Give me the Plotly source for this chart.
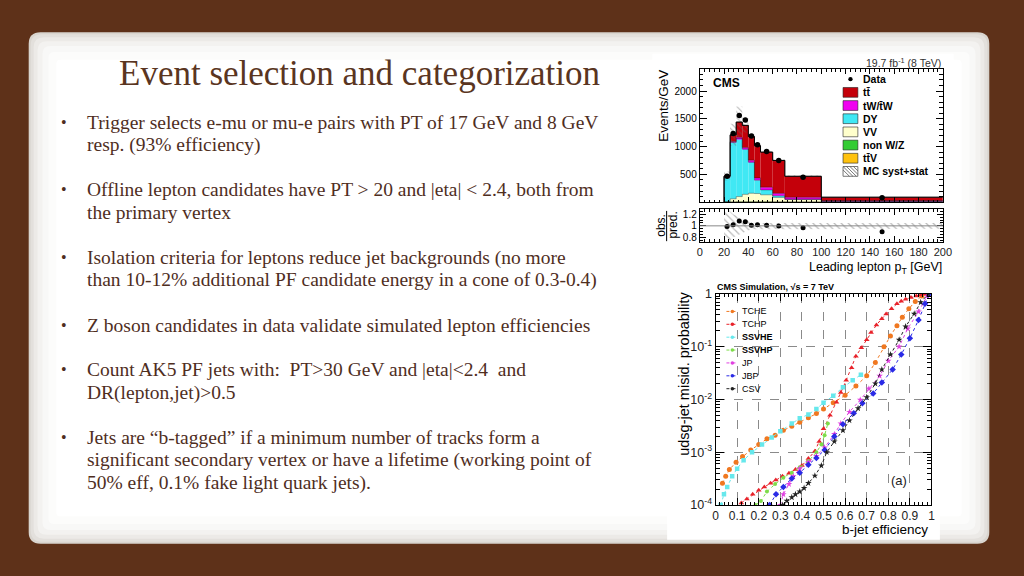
import plotly.graph_objects as go

# ---------------- data: top histogram (leading lepton pT) ----------------
bin_edges = [20, 25, 30, 35, 40, 45, 50, 60, 70, 100, 200]
ttV   = [0, 1, 2, 2, 3, 3, 3, 3, 2, 1]
nonWZ = [1, 3, 3, 3, 2, 2, 2, 1, 1, 0]
VV    = [8, 56, 95, 135, 155, 150, 127, 82, 47, 14]
DY    = [445, 1016, 1047, 817, 561, 241, 88, 27, 5, 2]
tW    = [5, 15, 20, 28, 35, 40, 50, 45, 33, 10]
tt    = [11, 121, 275, 398, 426, 581, 631, 593, 378, 62]
data_counts = [465, 1235, 1560, 1480, 1192, 1035, 910, 748, 450, 80]
mc_unc = [80, 200, 280, 130, 55, 35, 25, 20, 15, 5]
ratio_unc = [0.30, 0.20, 0.15, 0.10, 0.06, 0.05, 0.05, 0.05, 0.05, 0.05]

hist_yticks = [500, 1000, 1500, 2000]
ratio_yticks = [0.8, 1, 1.2]

# ---------------- data: b-tag performance curves ----------------
TCHE_x = [0.032, 0.047, 0.064, 0.095, 0.125, 0.163, 0.20, 0.238, 0.276, 0.314, 0.353, 0.39, 0.43, 0.467,
          0.50, 0.545, 0.60, 0.65, 0.70, 0.74, 0.78, 0.81, 0.84, 0.865, 0.895, 0.925, 0.955, 0.97]
TCHE_y = [2.6e-4, 3.5e-4, 4.7e-4, 6.5e-4, 8.3e-4, 1.1e-3, 1.4e-3, 1.8e-3, 2.1e-3, 2.6e-3, 3.1e-3, 3.7e-3,
          4.5e-3, 5.4e-3, 6.6e-3, 8.7e-3, 1.2e-2, 1.8e-2, 2.8e-2, 5.0e-2, 0.10, 0.16, 0.25, 0.36, 0.52,
          0.72, 0.91, 1.0]
TCHP_x = [0.119, 0.145, 0.172, 0.20, 0.226, 0.255, 0.279, 0.31, 0.34, 0.37, 0.40, 0.43, 0.46, 0.48, 0.50,
          0.53, 0.56, 0.58, 0.605, 0.63, 0.65, 0.675, 0.70, 0.72, 0.745, 0.77, 0.79, 0.815, 0.84, 0.86,
          0.88, 0.905, 0.93, 0.95, 0.97]
TCHP_y = [1.1e-4, 1.3e-4, 1.6e-4, 1.9e-4, 2.2e-4, 2.6e-4, 3.0e-4, 3.5e-4, 4.0e-4, 4.7e-4, 5.6e-4, 7.6e-4,
          1.05e-3, 1.6e-3, 2.8e-3, 5.0e-3, 8.9e-3, 1.35e-2, 2.3e-2, 4.0e-2, 6.6e-2, 9.5e-2, 0.135, 0.186,
          0.257, 0.339, 0.417, 0.525, 0.646, 0.724, 0.794, 0.851, 0.912, 0.955, 1.0]
SSVHE_x = [0.024, 0.039, 0.054, 0.077, 0.10, 0.13, 0.169, 0.215, 0.26, 0.30, 0.353, 0.39, 0.43, 0.467,
           0.50, 0.545, 0.59, 0.635, 0.673]
SSVHE_y = [1.0e-4, 1.6e-4, 2.2e-4, 3.5e-4, 4.9e-4, 7.1e-4, 1.0e-3, 1.4e-3, 1.9e-3, 2.5e-3, 3.5e-3, 4.4e-3,
           5.2e-3, 6.6e-3, 8.7e-3, 1.17e-2, 1.7e-2, 2.3e-2, 2.95e-2]
SSVHP_x = [0.185, 0.21, 0.238, 0.276, 0.314, 0.353, 0.39, 0.43, 0.467, 0.49, 0.505, 0.52]
SSVHP_y = [1.0e-4, 1.2e-4, 1.8e-4, 2.5e-4, 3.3e-4, 4.1e-4, 5.2e-4, 6.8e-4, 1.0e-3, 1.4e-3, 2.1e-3, 3.5e-3]
JP_x = [0.30, 0.314, 0.34, 0.36, 0.39, 0.43, 0.467, 0.505, 0.55, 0.58, 0.62, 0.67, 0.71, 0.76, 0.80, 0.85,
        0.89, 0.94, 0.98]
JP_y = [1.0e-4, 1.6e-4, 2.5e-4, 3.5e-4, 4.9e-4, 6.5e-4, 8.5e-4, 1.23e-3, 2.2e-3, 3.5e-3, 5.8e-3, 9.8e-3,
        1.6e-2, 2.8e-2, 5.4e-2, 0.10, 0.22, 0.46, 0.91]
JBP_x = [0.25, 0.28, 0.314, 0.353, 0.39, 0.43, 0.467, 0.505, 0.55, 0.59, 0.64, 0.68, 0.73, 0.77, 0.82, 0.86,
         0.90, 0.94, 0.97, 0.99]
JBP_y = [1.0e-4, 1.6e-4, 2.2e-4, 3.2e-4, 4.1e-4, 5.8e-4, 7.8e-4, 1.1e-3, 2.0e-3, 3.4e-3, 5.5e-3, 8.5e-3,
         1.3e-2, 2.1e-2, 3.7e-2, 7.1e-2, 0.145, 0.32, 0.65, 1.0]
CSV_x = [0.31, 0.33, 0.353, 0.37, 0.39, 0.41, 0.43, 0.46, 0.49, 0.515, 0.55, 0.59, 0.62, 0.66, 0.70, 0.74,
         0.77, 0.81, 0.85, 0.88, 0.92, 0.95, 0.985]
CSV_y = [1.0e-4, 1.2e-4, 1.4e-4, 1.6e-4, 1.8e-4, 2.1e-4, 2.6e-4, 3.6e-4, 5.6e-4, 1.0e-3, 1.6e-3, 2.6e-3,
         4.0e-3, 6.8e-3, 1.1e-2, 2.0e-2, 3.7e-2, 7.1e-2, 0.135, 0.24, 0.42, 0.69, 1.0]

btag_xticks = [0, 0.1, 0.2, 0.3, 0.4, 0.5, 0.6, 0.7, 0.8, 0.9, 1]
btag_yticks = [1e-4, 1e-3, 1e-2, 1e-1, 1]
btag_yticktext = ["10<sup>-4</sup>", "10<sup>-3</sup>", "10<sup>-2</sup>", "10<sup>-1</sup>", "1"]

# ---------------- slide text ----------------
title_text = "Event selection and categorization"
bullets = [
    ["Trigger selects e-mu or mu-e pairs with PT of 17 GeV and 8 GeV", "resp. (93% efficiency)"],
    ["Offline lepton candidates have PT > 20 and |eta| < 2.4, both from", "the primary vertex"],
    ["Isolation criteria for leptons reduce jet backgrounds (no more",
     "than 10-12% additional PF candidate energy in a cone of 0.3-0.4)"],
    ["Z boson candidates in data validate simulated lepton efficiencies"],
    ["Count AK5 PF jets with:  PT>30 GeV and |eta|<2.4  and", "DR(lepton,jet)>0.5"],
    ["Jets are \u201cb-tagged\u201d if a minimum number of tracks form a",
     "significant secondary vertex or have a lifetime (working point of",
     "50% eff, 0.1% fake light quark jets)."],
]
bullet_y = [118, 187, 257, 326, 372, 441]

# ---------------- helpers ----------------
W, H = 1024, 576
def X(px): return px / W
def Y(py): return 1 - py / H

BROWN = "#5e3119"
TEXT = "#4f2e1e"
TITLE = "#5a3521"
SANS = "Liberation Sans, Arial, sans-serif"
SERIF = "Liberation Serif, Times New Roman, serif"

c_tt, c_tW, c_DY, c_VV, c_nonWZ, c_ttV = "#c4000a", "#f000f0", "#40e8f4", "#ffffcc", "#33cc33", "#ffc20e"

fig = go.Figure()

# ---- stacked histogram
centers = [(a + b) / 2 for a, b in zip(bin_edges[:-1], bin_edges[1:])]
widths = [b - a for a, b in zip(bin_edges[:-1], bin_edges[1:])]
stack = [(ttV, c_ttV), (nonWZ, c_nonWZ), (VV, c_VV), (DY, c_DY), (tW, c_tW), (tt, c_tt)]
base = [0] * len(centers)
for vals, col in stack:
    fig.add_trace(go.Bar(x=centers, y=vals, base=base[:], width=widths, marker_color=col,
                         marker_line_width=0, xaxis="x", yaxis="y", hoverinfo="skip"))
    base = [b + v for b, v in zip(base, vals)]
    fig.add_trace(go.Scatter(x=[bin_edges[0]] + bin_edges, y=[0] + base + [base[-1]],
                             mode="lines", line=dict(color="rgba(0,0,0,0.55)", width=0.6, shape="hv"),
                             xaxis="x", yaxis="y", hoverinfo="skip"))
total = base
fig.add_trace(go.Scatter(x=[bin_edges[0]] + bin_edges, y=[0] + total + [total[-1]],
                         mode="lines", line=dict(color="black", width=1, shape="hv"),
                         xaxis="x", yaxis="y", hoverinfo="skip"))
fig.add_trace(go.Bar(x=centers, y=[2 * u for u in mc_unc], base=[t - u for t, u in zip(total, mc_unc)],
                     width=widths, marker=dict(color="rgba(0,0,0,0)", line_width=0,
                                               pattern=dict(shape="\\", fgcolor="#666666", bgcolor="rgba(0,0,0,0)",
                                                            size=4, solidity=0.25, fillmode="overlay")),
                     xaxis="x", yaxis="y", hoverinfo="skip"))
fig.add_trace(go.Scatter(x=centers, y=data_counts, mode="markers",
                         marker=dict(color="black", size=5.5), xaxis="x", yaxis="y", hoverinfo="skip"))

# ---- ratio panel
band_x = [bin_edges[0]] + centers + [bin_edges[-1]]
band_u = [ratio_unc[0]] + ratio_unc + [ratio_unc[-1]]
fig.add_trace(go.Scatter(x=band_x + band_x[::-1], y=[1 + u for u in band_u] + [1 - u for u in band_u[::-1]],
                         fill="toself", mode="lines", line=dict(width=0), fillcolor="rgba(0,0,0,0)",
                         fillpattern=dict(shape="\\", fgcolor="#777777", bgcolor="rgba(0,0,0,0)",
                                          size=5, solidity=0.25, fillmode="overlay"),
                         xaxis="x2", yaxis="y2", hoverinfo="skip"))
ratio = [d / t for d, t in zip(data_counts, total)]
fig.add_trace(go.Scatter(x=centers, y=ratio, mode="markers", marker=dict(color="black", size=5),
                         xaxis="x2", yaxis="y2", hoverinfo="skip"))

# ---- b-tag curves
taggers = [
    ("TCHE", TCHE_x, TCHE_y, "#f07820", "circle", 5),
    ("TCHP", TCHP_x, TCHP_y, "#e8222a", "triangle-up", 5),
    ("SSVHE", SSVHE_x, SSVHE_y, "#66e8ec", "square", 4.5),
    ("SSVHP", SSVHP_x, SSVHP_y, "#7edc4a", "circle", 4),
    ("JP", JP_x, JP_y, "#e040e0", "star", 5),
    ("JBP", JBP_x, JBP_y, "#2a2ae6", "diamond", 5),
    ("CSV", CSV_x, CSV_y, "#222222", "star", 5),
]
for name, xs, ys, col, sym, sz in taggers:
    fig.add_trace(go.Scatter(x=xs, y=ys, mode="lines+markers", name=name,
                             line=dict(color=col, width=1, dash="dot"),
                             marker=dict(color=col, symbol=sym, size=sz),
                             xaxis="x3", yaxis="y3", hoverinfo="skip"))

# ---------------- shapes ----------------
shapes = []
def rrect(x0, y0, x1, y1, r, fill):
    p = (f"M {X(x0+r)},{Y(y0)} L {X(x1-r)},{Y(y0)} Q {X(x1)},{Y(y0)} {X(x1)},{Y(y0+r)} "
         f"L {X(x1)},{Y(y1-r)} Q {X(x1)},{Y(y1)} {X(x1-r)},{Y(y1)} L {X(x0+r)},{Y(y1)} "
         f"Q {X(x0)},{Y(y1)} {X(x0)},{Y(y1-r)} L {X(x0)},{Y(y0+r)} Q {X(x0)},{Y(y0)} {X(x0+r)},{Y(y0)} Z")
    return dict(type="path", path=p, xref="paper", yref="paper", fillcolor=fill,
                line=dict(width=0), layer="below")

for inset, col in [(0, "#d9d5cf"), (2, "#e3e0dc"), (5, "#eceae7"), (9, "#f3f2f0"),
                   (14, "#f8f8f7"), (20, "#fcfcfb"), (28, "#ffffff")]:
    shapes.append(rrect(26 + inset, 26 + inset, 998 - inset, 550 - inset, max(12 - inset * 0.3, 4), col))
shapes.append(dict(type="rect", xref="paper", yref="paper", x0=X(657), x1=X(962), y0=Y(272), y1=Y(48),
                   fillcolor="white", line_width=0, layer="below"))
shapes.append(dict(type="rect", xref="paper", yref="paper", x0=X(672), x1=X(948), y0=Y(546), y1=Y(276),
                   fillcolor="white", line_width=0, layer="below"))
shapes.append(dict(type="line", xref="x2 domain", yref="y2", x0=0, x1=1, y0=1, y1=1,
                   line=dict(color="#888888", width=1)))
shapes.append(dict(type="line", xref="paper", yref="paper", x0=X(671.5), x1=X(671.5), y0=Y(240), y1=Y(209),
                   line=dict(color="black", width=1)))

annotations = []
def ann(text, x, y, size, color="black", family=SANS, xanchor="left", yanchor="middle", angle=0):
    annotations.append(dict(text=text, x=X(x), y=Y(y), xref="paper", yref="paper", showarrow=False,
                            xanchor=xanchor, yanchor=yanchor, textangle=angle,
                            font=dict(size=size, color=color, family=family)))

leg_labels = ["Data", "tt\u0304", "tW/t\u0304W", "DY", "VV", "non W/Z", "tt\u0304V", "MC syst+stat"]
leg_cols = [None, c_tt, c_tW, c_DY, c_VV, c_nonWZ, c_ttV, "hatch"]
for i, (lab, col) in enumerate(zip(leg_labels, leg_cols)):
    yc = 74 + 13.5 * i
    if col is None:
        shapes.append(dict(type="circle", xref="paper", yref="paper", x0=X(855.3), x1=X(859.7),
                           y0=Y(yc + 2.2), y1=Y(yc - 2.2), fillcolor="black", line_width=0))
    elif col == "hatch":
        shapes.append(dict(type="rect", xref="paper", yref="paper", x0=X(850), x1=X(865),
                           y0=Y(yc + 5), y1=Y(yc - 5), fillcolor="white", line=dict(color="#555", width=0.8)))
        for k in range(5):
            xa = 850 + k * 3.5 - 3.5
            x0c, y0c = max(xa, 850), yc - 5 + (max(xa, 850) - xa)
            x1c = min(xa + 10, 865)
            y1c = yc - 5 + (x1c - xa)
            shapes.append(dict(type="line", xref="paper", yref="paper", x0=X(x0c), y0=Y(y0c),
                               x1=X(x1c), y1=Y(y1c), line=dict(color="#555", width=0.8)))
    else:
        shapes.append(dict(type="rect", xref="paper", yref="paper", x0=X(850), x1=X(865),
                           y0=Y(yc + 5), y1=Y(yc - 5), fillcolor=col, line=dict(color="#222", width=0.6)))
    ann("<b>" + lab + "</b>", 868, yc, 10.5)

bold_names = {"SSVHE", "SSVHP"}
for i, (name, xs, ys, col, sym, sz) in enumerate(taggers):
    yc = 312 + 13.2 * i
    shapes.append(dict(type="line", xref="paper", yref="paper", x0=X(732), x1=X(744), y0=Y(yc), y1=Y(yc),
                       line=dict(color=col, width=1, dash="dot")))
    shapes.append(dict(type="circle", xref="paper", yref="paper", x0=X(736.2), x1=X(739.8),
                       y0=Y(yc + 1.8), y1=Y(yc - 1.8), fillcolor=col, line_width=0))
    lab = "<b>" + name + "</b>" if name in bold_names else name
    ann(lab, 746, yc, 9)

ann("19.7 fb<sup>-1</sup> (8 TeV)", 951, 57, 10.5, color="#333", xanchor="right")
ann("<b>CMS</b>", 716, 78, 12)
ann("Events/GeV", 668, 101, 13.5, angle=-90, xanchor="center")
ann("obs.", 665, 224, 12, angle=-90, xanchor="center")
ann("pred.", 678, 224, 12, angle=-90, xanchor="center")
ann("Leading lepton p<sub>T</sub> [GeV]", 952, 267, 12.5, xanchor="right")
ann("<b>CMS Simulation, \u221As = 7 TeV</b>", 720, 287, 9)
ann("udsg-jet misid. probability", 689, 376, 14.5, angle=-90, xanchor="center")
ann("b-jet efficiency", 938, 536, 13.5, xanchor="right")
ann("(a)", 907, 485, 13, color="#222", xanchor="center")

ann(title_text, 361, 68, 35, color=TITLE, family=SERIF, xanchor="center")
for lines, yb in zip(bullets, bullet_y):
    ann("\u2022", 57, yb, 16, color=TEXT, family=SERIF)
    for j, line in enumerate(lines):
        ann(line, 83, yb + 23.3 * j, 19.5, color=TEXT, family=SERIF)

# ---------------- axes ----------------
frame = dict(showline=True, linecolor="black", linewidth=1, mirror="ticks", ticks="inside",
             showgrid=False, zeroline=False, tickcolor="black", ticklen=5,
             tickfont=dict(family=SANS, size=10, color="black"))
hx = [X(705), X(951)]
layout_axes = dict(
    xaxis=dict(frame, domain=hx, range=[0, 200], anchor="y", dtick=20, showticklabels=False,
               minor=dict(ticks="inside", dtick=4, ticklen=2.5, tickcolor="black")),
    yaxis=dict(frame, domain=[Y(200), Y(64)], range=[0, 2390], anchor="x", tickvals=hist_yticks,
               ticklen=7, minor=dict(ticks="inside", dtick=100, ticklen=3.5, tickcolor="black")),
    xaxis2=dict(frame, domain=hx, range=[0, 200], anchor="y2", dtick=20, ticklen=6,
                tickfont=dict(family=SANS, size=11, color="#222"),
                minor=dict(ticks="inside", dtick=4, ticklen=3, tickcolor="black")),
    yaxis2=dict(frame, domain=[Y(241), Y(207)], range=[0.72, 1.29], anchor="x2", tickvals=ratio_yticks,
                ticklen=6, minor=dict(ticks="inside", dtick=0.05, ticklen=3, tickcolor="black")),
    xaxis3=dict(frame, domain=[X(721), X(939.5)], range=[0, 1], anchor="y3", tickvals=btag_xticks,
                ticktext=[("%g" % v) for v in btag_xticks], ticklen=7,
                showgrid=True, gridcolor="#8a8a8a", griddash="dash", gridwidth=1,
                tickfont=dict(family=SANS, size=12, color="#222"),
                minor=dict(ticks="inside", dtick=0.02, ticklen=3.5, tickcolor="black", showgrid=False)),
    yaxis3=dict(frame, domain=[Y(510.5), Y(294)], type="log", range=[-4, 0], anchor="x3",
                tickvals=btag_yticks, ticktext=btag_yticktext, ticklen=8,
                showgrid=True, gridcolor="#8a8a8a", griddash="dash", gridwidth=1,
                tickfont=dict(family=SANS, size=12.5, color="#222"),
                minor=dict(ticks="inside", dtick="D1", ticklen=4, tickcolor="black", showgrid=False)),
)

fig.update_layout(
    width=W, height=H, margin=dict(l=0, r=0, t=0, b=0, pad=0), autosize=False,
    paper_bgcolor=BROWN, plot_bgcolor="white", showlegend=False, barmode="overlay",
    shapes=shapes, annotations=annotations, **layout_axes,
)

fig.write_html("out.html",
               config=dict(displayModeBar=False, responsive=False),
               post_script="document.body.style.margin='0px';document.body.style.padding='0px';"
                           "document.body.style.overflow='hidden';"
                           "document.body.style.background='" + BROWN + "';"
                           "document.documentElement.style.overflow='hidden';")
